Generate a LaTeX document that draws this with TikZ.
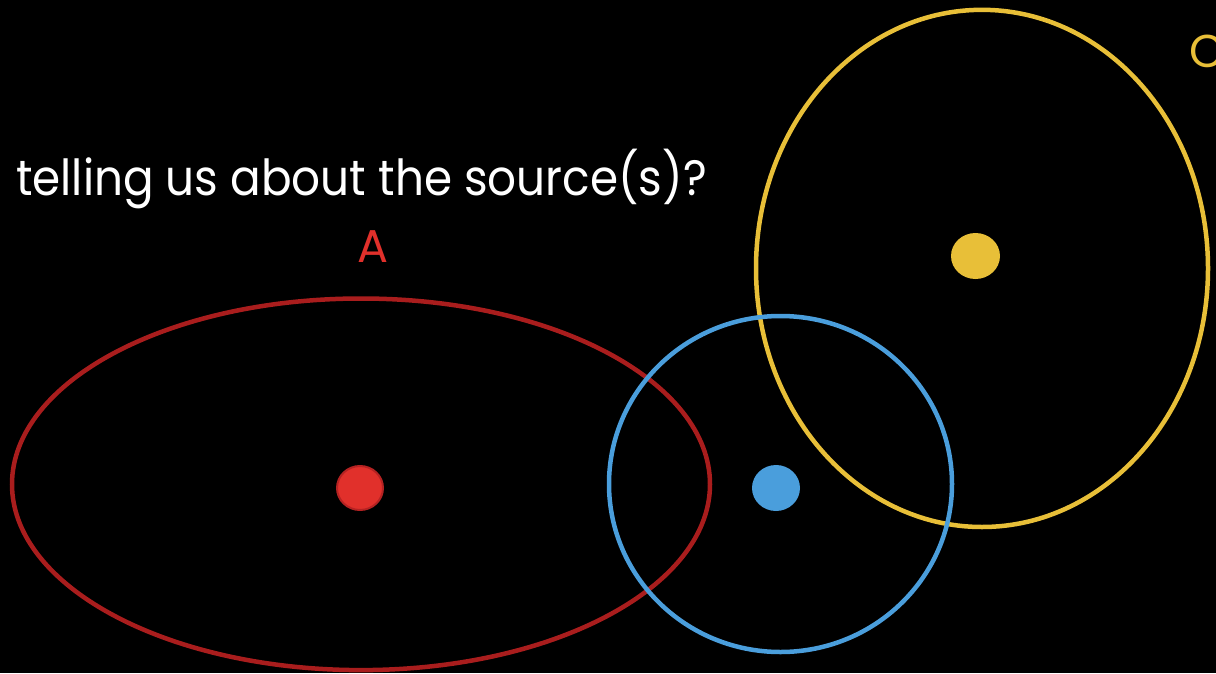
\documentclass[tikz,border=0pt]{standalone}
\usepackage{fontspec}
\setmainfont{Poppins}
\definecolor{bg}{HTML}{000000}
\definecolor{redring}{HTML}{A91D1D}
\definecolor{reddot}{HTML}{E1302B}
\definecolor{reddotline}{HTML}{B52222}
\definecolor{bluering}{HTML}{4A9EDC}
\definecolor{yellowring}{HTML}{E8BF38}
\tikzset{
  ring/.style={line width=4.5pt},
  lbl/.style={inner sep=0pt, font=\fontsize{46}{50}\selectfont}
}
\begin{document}
\begin{tikzpicture}[x=1pt,y=-1pt]
\fill[bg] (0,0) rectangle (1216,673);
\useasboundingbox (0,0) rectangle (1216,673);
\begin{scope}
\clip (0,0) rectangle (1216,673);
\node[lbl, text=white, anchor=base west, yscale=1.08, xscale=0.985] (q) at (16,195) {telling us about the source(s)?};
\node[lbl, text=reddot, anchor=base] (a) at (373,262) {A};
\node[lbl, text=yellowring, anchor=base west] (c) at (1189,67) {C};
\draw[ring, redring] (361,484.3) ellipse [x radius=349, y radius=185.8];
\draw[ring, yellowring] (982,268.4) ellipse [x radius=226, y radius=258.6];
\draw[ring, bluering] (780.5,484) ellipse [x radius=171.5, y radius=168];
\fill[reddot, draw=reddotline, line width=2pt] (360,488) ellipse [x radius=23, y radius=22];
\fill[bluering] (776,488) ellipse [x radius=24, y radius=23];
\fill[yellowring] (975.5,256) ellipse [x radius=24.5, y radius=23];
\end{scope}
\end{tikzpicture}
\end{document}
